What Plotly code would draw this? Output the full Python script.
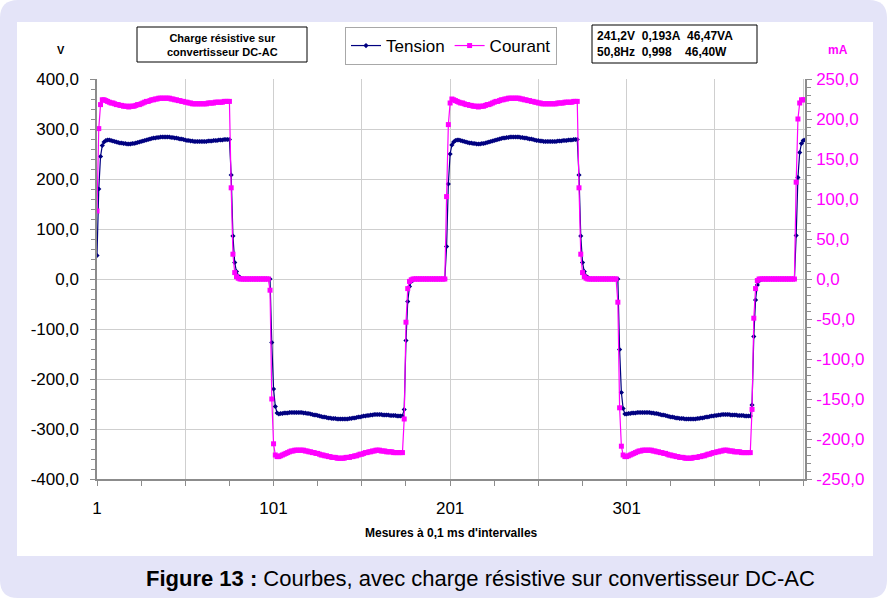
import plotly.graph_objects as go

# ---------------- data ----------------
# Tension (V), one value per 0.1 ms sample
tension_rise1 = [47, 180, 245, 267]
tension_pos1 = [274, 277, 278, 278, 277, 276, 275, 274, 273, 272,
                272, 271, 271, 270, 270, 270, 271, 271, 272, 273,
                274, 275, 276, 277, 278, 279, 280, 281, 282, 282,
                283, 283, 284, 284, 284, 284, 284, 284, 283, 283,
                282, 282, 281, 280, 280, 279, 278, 277, 277, 276,
                276, 275, 275, 275, 275, 275, 275, 275, 275, 276,
                276, 276, 277, 277, 277, 278, 278, 278, 279, 279,
                279, 279]
tension_fall1 = [208, 86, 33, 15, 6, 3, 1]
tension_zero1 = [0, 0, 0, 0, 0, 0, 0, 0, 0, 0, 0, 0, 0, 0, 0, 0]
tension_fall2 = [-127, -220, -255, -268]
tension_neg1 = [-270, -269, -269, -268, -268, -268, -267, -267, -267, -267,
                -267, -267, -267, -267, -268, -268, -269, -269, -270, -271,
                -272, -272, -273, -274, -275, -276, -276, -277, -278, -278,
                -279, -279, -279, -280, -280, -280, -280, -280, -280, -280,
                -279, -279, -278, -278, -277, -276, -276, -275, -274, -274,
                -273, -273, -272, -272, -271, -271, -271, -271, -271, -272,
                -272, -272, -272, -273, -273, -273, -273, -274, -274, -274,
                -274]
tension_rise2 = [-261, -123, -45, -15, -5, -2]
tension_zero2 = [0, 0, 0, 0, 0, 0, 0, 0, 0, 0, 0, 0, 0, 0, 0, 0, 0, 0]
tension_rise3 = [65, 190, 250, 268]
tension_pos2 = [274, 277, 278, 278, 277, 276, 275, 274, 273, 272,
                272, 271, 271, 270, 270, 270, 271, 271, 272, 273,
                274, 275, 276, 277, 278, 279, 280, 281, 282, 282,
                283, 283, 284, 284, 284, 284, 284, 284, 283, 283,
                282, 282, 281, 280, 280, 279, 278, 277, 277, 276,
                276, 275, 275, 275, 275, 275, 275, 275, 275, 276,
                276, 276, 277, 277, 277, 278, 278, 278, 279, 279,
                279]
tension_fall3 = [208, 86, 33, 15, 6, 3, 1]
tension_zero3 = [0, 0, 0, 0, 0, 0, 0, 0, 0, 0, 0, 0, 0, 0, 0, 0]
tension_fall4 = [-141, -227, -259, -270]
tension_neg2 = [-270, -269, -269, -268, -268, -268, -267, -267, -267, -267,
                -267, -267, -267, -267, -268, -268, -269, -269, -270, -271,
                -272, -272, -273, -274, -275, -276, -276, -277, -278, -278,
                -279, -279, -279, -280, -280, -280, -280, -280, -280, -280,
                -279, -279, -278, -278, -277, -276, -276, -275, -274, -274,
                -273, -273, -272, -272, -271, -271, -271, -271, -271, -272,
                -272, -272, -272, -273, -273, -273, -273, -274, -274, -274,
                -274]
tension_rise4 = [-252, -115, -42, -12, -4, -1]
tension_zero4 = [0, 0, 0, 0, 0, 0, 0, 0, 0, 0, 0, 0, 0, 0, 0, 0, 0, 0, 0]
tension_rise5 = [87, 203, 253, 271, 277, 278]

# Courant (mA)
courant_rise1 = [85, 188, 218, 224]
courant_pos1 = [224, 223, 222, 221, 220, 220, 219, 218, 218, 217,
                217, 216, 216, 216, 215, 216, 216, 216, 217, 218,
                218, 219, 220, 221, 222, 222, 223, 224, 224, 225,
                225, 226, 226, 226, 226, 226, 226, 226, 225, 225,
                224, 224, 223, 223, 222, 222, 221, 221, 220, 220,
                219, 219, 219, 219, 219, 219, 219, 219, 219, 220,
                220, 220, 220, 221, 221, 221, 221, 221, 222, 222,
                222, 222]
courant_fall1 = [114, 31, 8, 3, 1]
courant_zero1 = [0, 0, 0, 0, 0, 0, 0, 0, 0, 0, 0, 0, 0, 0, 0, 0, 0]
courant_fall2 = [-14, -150, -206, -220]
courant_neg1 = [-222, -222, -221, -220, -219, -218, -217, -216, -215, -215,
                -214, -214, -214, -214, -214, -214, -215, -215, -216, -216,
                -217, -217, -218, -218, -219, -220, -220, -221, -221, -222,
                -222, -223, -223, -223, -224, -224, -224, -224, -224, -223,
                -223, -223, -222, -222, -221, -221, -220, -219, -219, -218,
                -217, -217, -216, -216, -215, -215, -214, -214, -214, -215,
                -215, -215, -216, -216, -216, -216, -217, -217, -217, -217,
                -217, -217]
courant_rise2 = [-175, -54, -12, -3, -1]
courant_zero2 = [0, 0, 0, 0, 0, 0, 0, 0, 0, 0, 0, 0, 0, 0, 0, 0, 0, 0, 0]
courant_rise3 = [103, 193, 220, 225]
courant_pos2 = [224, 223, 222, 221, 220, 220, 219, 218, 218, 217,
                217, 216, 216, 216, 215, 216, 216, 216, 217, 218,
                218, 219, 220, 221, 222, 222, 223, 224, 224, 225,
                225, 226, 226, 226, 226, 226, 226, 226, 225, 225,
                224, 224, 223, 223, 222, 222, 221, 221, 220, 220,
                219, 219, 219, 219, 219, 219, 219, 219, 219, 220,
                220, 220, 220, 221, 221, 221, 221, 221, 222, 222,
                222]
courant_fall3 = [114, 31, 8, 3, 1]
courant_zero3 = [0, 0, 0, 0, 0, 0, 0, 0, 0, 0, 0, 0, 0, 0, 0, 0, 0]
courant_fall4 = [-29, -161, -209, -220]
courant_neg2 = [-222, -222, -221, -220, -219, -218, -217, -216, -215, -215,
                -214, -214, -214, -214, -214, -214, -215, -215, -216, -216,
                -217, -217, -218, -218, -219, -220, -220, -221, -221, -222,
                -222, -223, -223, -223, -224, -224, -224, -224, -224, -223,
                -223, -223, -222, -222, -221, -221, -220, -219, -219, -218,
                -217, -217, -216, -216, -215, -215, -214, -214, -214, -215,
                -215, -215, -216, -216, -216, -216, -217, -217, -217, -217,
                -217, -217]
courant_rise4 = [-163, -49, -12, -2]
courant_zero4 = [0, 0, 0, 0, 0, 0, 0, 0, 0, 0, 0, 0, 0, 0, 0, 0, 0, 0, 0, 0, 0]
courant_rise5 = [121, 200, 220, 224, 224, 224]

tension = (tension_rise1 + tension_pos1 + tension_fall1 + tension_zero1 +
           tension_fall2 + tension_neg1 + tension_rise2 + tension_zero2 +
           tension_rise3 + tension_pos2 + tension_fall3 + tension_zero3 +
           tension_fall4 + tension_neg2 + tension_rise4 + tension_zero4 +
           tension_rise5)
courant = (courant_rise1 + courant_pos1 + courant_fall1 + courant_zero1 +
           courant_fall2 + courant_neg1 + courant_rise2 + courant_zero2 +
           courant_rise3 + courant_pos2 + courant_fall3 + courant_zero3 +
           courant_fall4 + courant_neg2 + courant_rise4 + courant_zero4 +
           courant_rise5)
samples = list(range(1, len(tension) + 1))

x_tickvals = [1, 51, 101, 151, 201, 251, 301, 351, 401]
x_ticktext = ["1", "", "101", "", "201", "", "301", "", ""]
y_tickvals = [-400, -300, -200, -100, 0, 100, 200, 300, 400]
y_ticktext = ["-400,0", "-300,0", "-200,0", "-100,0", "0,0", "100,0", "200,0", "300,0", "400,0"]
y2_tickvals = [-250, -200, -150, -100, -50, 0, 50, 100, 150, 200, 250]
y2_ticktext = ["-250,0", "-200,0", "-150,0", "-100,0", "-50,0", "0,0", "50,0", "100,0", "150,0", "200,0", "250,0"]

# ---------------- layout helpers (pixel -> paper) ----------------
W, H = 887, 598
L, R, T, B = 97, 805, 79, 479
def X(px):
    return (px - L) / (R - L)
def Y(py):
    return (B - py) / (B - T)

NAVY = "#000080"
MAG = "#FF00FF"
FONT = "Liberation Sans, Arial, sans-serif"

fig = go.Figure()
fig.add_trace(go.Scatter(x=samples, y=tension, name="Tension", mode="lines+markers",
                         line=dict(color=NAVY, width=1.2),
                         marker=dict(symbol="diamond", size=4, color=NAVY)))
fig.add_trace(go.Scatter(x=samples, y=courant, name="Courant", mode="lines+markers",
                         yaxis="y2",
                         line=dict(color=MAG, width=1.2),
                         marker=dict(symbol="square", size=5, color=MAG)))

r = 18
def rr_path(x0, y0, x1, y1, rad):
    return (f"M {X(x0+rad)},{Y(y0)} L {X(x1-rad)},{Y(y0)} Q {X(x1)},{Y(y0)} {X(x1)},{Y(y0+rad)} "
            f"L {X(x1)},{Y(y1-rad)} Q {X(x1)},{Y(y1)} {X(x1-rad)},{Y(y1)} "
            f"L {X(x0+rad)},{Y(y1)} Q {X(x0)},{Y(y1)} {X(x0)},{Y(y1-rad)} "
            f"L {X(x0)},{Y(y0+rad)} Q {X(x0)},{Y(y0)} {X(x0+rad)},{Y(y0)} Z")

shapes = [
    dict(type="path", xref="paper", yref="paper", path=rr_path(0, 0, W, H, r),
         fillcolor="#E4E4F8", line=dict(width=0), layer="below"),
    dict(type="rect", xref="paper", yref="paper", x0=X(17), x1=X(873), y0=Y(22), y1=Y(556),
         fillcolor="white", line=dict(width=0), layer="below"),
    dict(type="rect", xref="paper", yref="paper", x0=X(137), x1=X(307), y0=Y(27), y1=Y(62),
         fillcolor="rgba(0,0,0,0)", line=dict(color="black", width=1), layer="above"),
    dict(type="rect", xref="paper", yref="paper", x0=X(592), x1=X(757), y0=Y(25), y1=Y(63),
         fillcolor="rgba(0,0,0,0)", line=dict(color="black", width=1), layer="above"),
]

def ann(text, px, py, size, color="black", xanchor="center", align="center"):
    return dict(text=text, x=X(px), y=Y(py), xref="paper", yref="paper", showarrow=False,
                xanchor=xanchor, yanchor="middle", align=align,
                font=dict(size=size, color=color, family=FONT))

annotations = [
    ann("<b>V</b>", 61, 50, 11),
    ann("<b>mA</b>", 838, 50, 12, MAG),
    ann("<b>Charge résistive sur<br>convertisseur DC-AC</b>", 222, 44.5, 11),
    ann("<b>241,2V\u00a0\u00a00,193A\u00a0\u00a046,47VA<br>50,8Hz\u00a0\u00a00,998\u00a0\u00a0\u00a0\u00a046,40W</b>",
        595, 44, 12, xanchor="left", align="left"),
    ann("<b>Mesures à 0,1 ms d'intervalles</b>", 451, 533, 12),
    ann("<b>Figure 13 :</b> Courbes, avec charge résistive sur convertisseur DC-AC", 480, 578, 22),
]

fig.update_layout(
    width=W, height=H, autosize=False,
    margin=dict(l=L, r=W - R, t=T, b=H - B, pad=0),
    paper_bgcolor="white", plot_bgcolor="rgba(0,0,0,0)",
    font=dict(family=FONT, size=17, color="black"),
    shapes=shapes, annotations=annotations,
    showlegend=True,
    legend=dict(orientation="h", x=X(345), y=Y(27), xanchor="left", yanchor="top",
                bordercolor="#a8a8a8", borderwidth=1, bgcolor="white",
                font=dict(size=17, family=FONT), itemwidth=30, tracegroupgap=0),
    xaxis=dict(range=[1, len(samples)], tickmode="array", tickvals=x_tickvals, ticktext=x_ticktext,
               showgrid=True, gridcolor="#cfcfcf", gridwidth=1, zeroline=False,
               showline=True, linecolor="#8c8c8c", linewidth=1.5,
               ticks="outside", ticklen=5, tickcolor="#8c8c8c", ticklabelstandoff=8,
               minor=dict(tick0=1, dtick=25, ticks="outside", ticklen=5, tickcolor="#8c8c8c", showgrid=False),
               tickfont=dict(size=17, color="black")),
    yaxis=dict(range=[-400, 400], tickmode="array", tickvals=y_tickvals, ticktext=y_ticktext,
               showgrid=True, gridcolor="#cfcfcf", gridwidth=1, zeroline=False,
               showline=True, linecolor="#8c8c8c", linewidth=1.5,
               ticks="outside", ticklen=5, tickcolor="#8c8c8c", ticklabelstandoff=8,
               minor=dict(tick0=0, dtick=20, ticks="outside", ticklen=4, tickcolor="#8c8c8c", showgrid=False),
               tickfont=dict(size=17, color="black")),
    yaxis2=dict(range=[-250, 250], overlaying="y", side="right", tickmode="array",
                tickvals=y2_tickvals, ticktext=y2_ticktext,
                showgrid=False, zeroline=False,
                showline=True, linecolor="#8c8c8c", linewidth=1.5,
                ticks="outside", ticklen=5, tickcolor="#8c8c8c", ticklabelstandoff=1,
                minor=dict(tick0=0, dtick=10, ticks="outside", ticklen=4, tickcolor="#8c8c8c", showgrid=False),
                tickfont=dict(size=17, color=MAG)),
)

fig.write_html("out.html", config={"displayModeBar": False},
               post_script="document.body.style.margin='0';document.body.style.overflow='hidden';")
